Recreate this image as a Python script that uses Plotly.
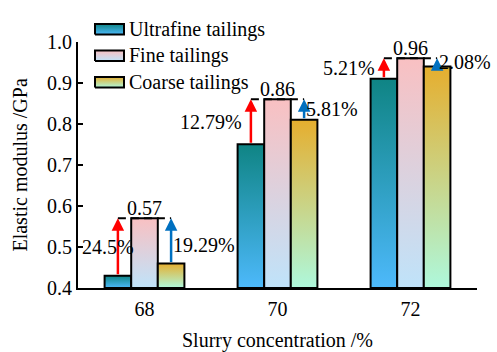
import plotly.graph_objects as go

categories = ["68", "70", "72"]
ultrafine = [0.43, 0.75, 0.91]
fine = [0.57, 0.86, 0.96]
coarse = [0.46, 0.81, 0.94]
pct_ultrafine = ["24.5%", "12.79%", "5.21%"]
pct_coarse = ["19.29%", "5.81%", "2.08%"]
series_names = ["Ultrafine tailings", "Fine tailings", "Coarse tailings"]
y_ticks = [0.4, 0.5, 0.6, 0.7, 0.8, 0.9, 1.0]

FONT = "Liberation Serif"
FS = 20
Y_MIN, Y_MAX = 0.4, 1.0
BAR_W = 0.2
offsets = [-0.2, 0.0, 0.2]
grads = [
    [[0, "#4db9fb"], [1, "#0f8484"]],
    [[0, "#bfe3fa"], [1, "#f9c0c2"]],
    [[0, "#aef8dc"], [1, "#e6ae2e"]],
]

# layout geometry (pixels)
W, H = 497, 352
M_L, M_R, M_T, M_B = 78, 20, 0, 64
PLOT_TOP = 32  # top of main plot area in pixels
area_h = H - M_T - M_B
area_w = W - M_L - M_R
main_dom_top = (area_h - (PLOT_TOP - M_T)) / area_h

fig = go.Figure()
series = [ultrafine, fine, coarse]
for s, (name, vals) in enumerate(zip(series_names, series)):
    for i, v in enumerate(vals):
        xc = i + offsets[s]
        x0, x1 = xc - BAR_W / 2, xc + BAR_W / 2
        fig.add_trace(go.Scatter(
            x=[x0, x1, x1, x0, x0],
            y=[Y_MIN, Y_MIN, v, v, Y_MIN],
            mode="lines", fill="toself",
            fillgradient=dict(type="vertical", colorscale=grads[s]),
            line=dict(color="black", width=2),
            name=name, showlegend=False, hoverinfo="skip",
        ))

# manual legend on a pixel-coordinate overlay axis
LEG_X0, LEG_BOX_W, LEG_BOX_H = 17, 29, 11
LEG_ROW0, LEG_ROW_STEP = 19, 27.5
annotations = []
for s, name in enumerate(series_names):
    yc = LEG_ROW0 + s * LEG_ROW_STEP
    bx0, bx1 = LEG_X0, LEG_X0 + LEG_BOX_W
    by0, by1 = yc + LEG_BOX_H / 2, yc - LEG_BOX_H / 2
    fig.add_trace(go.Scatter(
        x=[bx0, bx1, bx1, bx0, bx0], y=[by0, by0, by1, by1, by0],
        xaxis="x2", yaxis="y2", mode="lines", fill="toself",
        fillgradient=dict(type="vertical", colorscale=grads[s]),
        line=dict(color="black", width=2), showlegend=False, hoverinfo="skip",
    ))
    annotations.append(dict(x=bx1 + 3, y=yc, xref="x2", yref="y2", text=name,
                            showarrow=False, xanchor="left", yanchor="middle",
                            font=dict(family=FONT, size=FS, color="black")))

shapes = []
for i in range(len(categories)):
    xl, xr = i - 0.2, i + 0.2
    shapes.append(dict(type="line", xref="x", yref="y", x0=xl, x1=xr,
                       y0=fine[i], y1=fine[i],
                       line=dict(color="black", width=2, dash="8px,5px")))
    annotations.append(dict(x=xl, y=fine[i], ax=xl, ay=ultrafine[i], axref="x", ayref="y",
                            xref="x", yref="y", text="", showarrow=True, arrowhead=2,
                            arrowsize=1, arrowwidth=2.5, arrowcolor="#ff0000", standoff=0,
                            startstandoff=0))
    annotations.append(dict(x=xr, y=fine[i], ax=xr, ay=coarse[i], axref="x", ayref="y",
                            xref="x", yref="y", text="", showarrow=True, arrowhead=2,
                            arrowsize=1, arrowwidth=2.5, arrowcolor="#0070c0", standoff=0,
                            startstandoff=0))
    annotations.append(dict(x=i, y=fine[i], xref="x", yref="y", text=f"{fine[i]:.2f}",
                            showarrow=False, yanchor="bottom", yshift=-3,
                            font=dict(family=FONT, size=FS, color="black")))
    if i == 0:
        annotations.append(dict(x=xl, y=(ultrafine[i] + fine[i]) / 2, xref="x", yref="y",
                                text=pct_ultrafine[i], showarrow=False, xanchor="center",
                                xshift=-10, font=dict(family=FONT, size=FS, color="black")))
    else:
        annotations.append(dict(x=xl, y=(ultrafine[i] + fine[i]) / 2, xref="x", yref="y",
                                text=pct_ultrafine[i], showarrow=False, xanchor="right",
                                xshift=-7, font=dict(family=FONT, size=FS, color="black")))
    annotations.append(dict(x=xr, y=(coarse[i] + fine[i]) / 2, xref="x", yref="y",
                            text=pct_coarse[i], showarrow=False, xanchor="left",
                            xshift=0, yshift=(-4 if i == 0 else 0),
                            font=dict(family=FONT, size=FS, color="black")))

fig.update_layout(
    width=W, height=H,
    margin=dict(l=M_L, r=M_R, t=M_T, b=M_B),
    paper_bgcolor="white", plot_bgcolor="rgba(0,0,0,0)",
    font=dict(family=FONT, size=FS, color="black"),
    showlegend=False,
    annotations=annotations,
    shapes=shapes,
    xaxis=dict(range=[-0.5, 2.5], tickvals=list(range(len(categories))), ticktext=categories,
               showline=True, linecolor="black", linewidth=2, ticks="", showgrid=False,
               zeroline=False, anchor="y", ticklabelstandoff=2,
               tickfont=dict(family=FONT, size=FS, color="black"),
               title=dict(text="Slurry concentration /%", standoff=17,
                          font=dict(family=FONT, size=FS, color="black"))),
    yaxis=dict(range=[Y_MIN, Y_MAX], domain=[0, main_dom_top], tickvals=y_ticks,
               ticktext=[f"{t:.1f}" for t in y_ticks], anchor="x",
               showline=True, linecolor="black", linewidth=2, ticks="inside", ticklen=5,
               tickwidth=2, tickcolor="black", showgrid=False, zeroline=False,
               tickfont=dict(family=FONT, size=FS, color="black"),
               title=dict(text="Elastic modulus /GPa", standoff=14,
                          font=dict(family=FONT, size=FS, color="black"))),
    xaxis2=dict(domain=[0, 1], range=[0, area_w], anchor="y2", visible=False,
                fixedrange=True),
    yaxis2=dict(domain=[0, 1], range=[area_h, 0], anchor="x2", visible=False,
                fixedrange=True),
)

fig.write_html("out.html")
